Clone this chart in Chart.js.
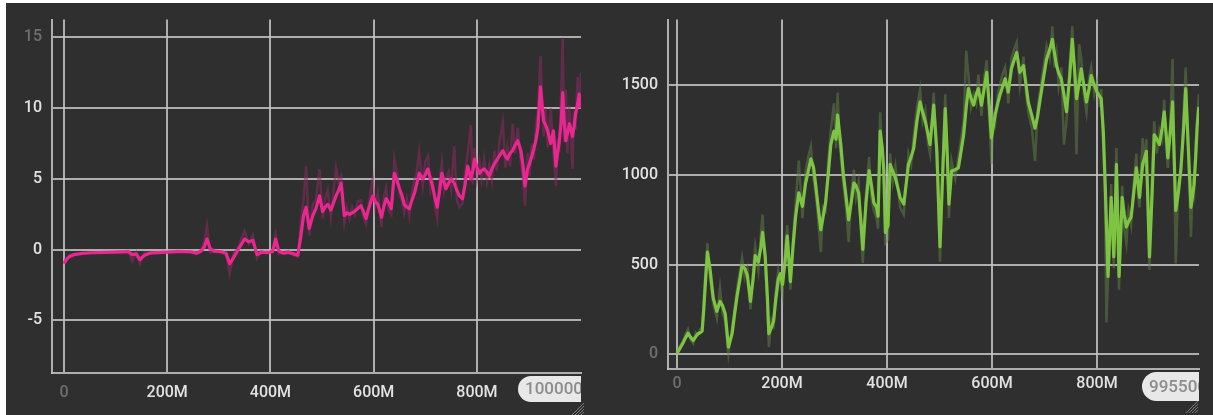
<!DOCTYPE html>
<html>
<head>
<meta charset="utf-8">
<script src="https://cdn.jsdelivr.net/npm/chart.js@4.4.1/dist/chart.umd.min.js"></script>
<style>
  html, body { margin: 0; padding: 0; width: 1213px; height: 415px; overflow: hidden; background: #2f2f2f; }
  .panel { position: absolute; top: 0; height: 415px; }
  #edgeL { position: absolute; left: 0; top: 0; width: 6px; height: 415px; background: #ffffff; z-index: 5; }
  #edgeT { position: absolute; left: 0; top: 0; width: 1213px; height: 3px; background: #ffffff; z-index: 5; }
</style>
</head>
<body>
<div class="panel" style="left:0;width:600px"><canvas id="rewardChart" width="600" height="415"></canvas></div>
<div class="panel" style="left:600px;width:613px"><canvas id="lengthChart" width="613" height="415"></canvas></div>
<div id="edgeL"></div>
<div id="edgeT"></div>
<script>
// ---- Left panel: reward curve (steps in millions) ----
const pinkSteps = [0,4,10,20,35,55,80,105,125,132,140,147,156,166,190,220,245,257,266,272,277,283,290,305,314,321,328,336,344,350,358,366,374,382,395,404,410,416,425,435,445,453,459,464,469,475,482,488,495,501,506,511,517,522,527,532,537,543,548,553,558,563,569,575,580,585,591,598,603,608,615,620,624,629,634,640,645,650,655,659,664,669,674,679,683,688,695,700,705,710,714,719,723,727,732,736,740,745,750,756,761,766,772,777,782,788,792,795,800,805,809,814,819,824,829,834,838,843,850,855,859,864,869,874,879,885,889,893,898,902,906,910,914,918,923,929,933,937,943,948,953,956,959,963,966,969,972,975,979,985,988,991,995,998,1001];
const pinkSmooth = [-0.97,-0.75,-0.5,-0.35,-0.27,-0.22,-0.2,-0.17,-0.15,-0.35,-0.3,-0.7,-0.4,-0.25,-0.2,-0.15,-0.15,-0.25,-0.1,0.2,0.75,0.1,-0.1,-0.15,-0.25,-1.0,-0.6,-0.1,0.4,0.75,0.55,0.65,-0.35,-0.2,-0.2,-0.15,0.75,-0.1,-0.25,-0.2,-0.3,-0.4,1.0,2.4,3.0,1.5,2.4,2.9,3.8,2.7,3.0,3.2,2.8,3.3,3.8,4.2,4.7,2.4,2.6,2.5,2.6,2.7,2.9,3.1,2.7,2.2,3.0,3.8,3.4,3.2,2.3,3.1,3.6,3.3,2.9,5.4,4.9,4.3,3.8,3.2,3.0,2.9,3.5,4.0,4.6,5.4,5.0,5.3,5.7,5.0,4.5,3.6,3.0,4.0,5.4,4.8,4.3,4.7,5.0,4.7,4.2,3.8,3.6,4.6,5.9,5.0,5.6,6.4,5.8,5.4,5.6,5.7,5.5,5.2,5.7,6.1,6.3,6.6,7.0,6.6,6.4,6.8,7.0,7.4,7.7,7.0,6.0,4.5,5.7,6.1,6.6,7.1,7.7,8.6,11.5,9.1,8.8,8.4,7.5,8.4,5.9,6.8,7.5,9.0,11.1,9.0,7.7,8.2,8.9,8.0,8.7,9.6,10.3,11.0,10.0];
const pinkRaw = [-1.0,-0.6,-0.4,-0.3,-0.25,-0.2,-0.2,-0.15,-0.1,-0.8,-0.2,-1.0,-0.2,-0.2,-0.2,-0.1,-0.2,-0.3,0.0,0.6,1.7,-0.2,-0.1,-0.2,-0.4,-1.7,-0.3,0.1,0.8,1.3,0.4,1.0,-0.6,-0.1,-0.3,0.0,1.1,-0.3,-0.2,-0.1,-0.4,-0.5,2.0,3.5,5.9,1.0,3.2,3.5,5.7,2.2,3.6,4.2,2.3,4.0,5.8,4.8,5.2,1.9,3.0,2.2,3.0,2.5,3.4,3.5,2.3,1.8,3.5,5.0,3.0,4.0,1.6,3.8,4.4,2.8,2.5,6.4,5.5,3.9,3.4,2.6,3.6,2.4,4.0,5.0,5.4,6.9,4.5,6.2,6.6,4.2,4.8,2.9,2.2,4.8,6.2,4.2,5.0,5.5,4.3,7.3,3.5,3.0,3.3,5.5,6.8,8.8,4.6,7.2,5.0,6.2,5.0,6.4,4.8,6.0,4.9,7.0,5.6,7.5,9.0,5.8,7.2,5.9,8.9,6.8,8.6,6.2,5.0,3.1,6.8,5.2,7.5,6.4,8.7,9.8,13.7,8.0,10.0,7.2,10.0,6.8,4.5,7.8,6.9,11.0,15.0,7.6,11.3,6.8,10.2,5.7,9.8,8.5,12.2,10.0,12.5];
const pinkXTicks = [0, 200, 400, 600, 800];
const pinkYTicks = [-5, 0, 5, 10, 15];

// ---- Right panel: episode length curve (steps in millions) ----
const greenSteps = [0,5,11,16,21,26,31,36,40,44,48,51,54,58,63,69,76,82,87,92,98,105,110,115,120,124,129,134,140,145,149,155,160,163,168,172,175,180,184,188,193,197,201,206,210,216,221,226,232,239,245,250,255,260,264,268,274,278,283,288,293,299,303,306,309,312,317,322,327,332,337,341,346,350,354,360,366,370,375,380,383,387,391,394,397,402,406,411,416,425,432,441,446,451,457,463,468,473,478,482,489,495,501,506,511,515,518,523,530,536,541,546,551,555,560,565,570,574,580,585,590,595,599,603,606,611,615,620,625,631,637,642,647,653,660,665,669,676,682,687,691,698,704,710,715,719,723,727,732,737,742,748,753,757,761,766,770,775,780,785,789,795,800,805,808,812,815,818,821,824,827,830,832,835,837,840,842,845,848,852,856,860,865,870,875,878,881,884,887,891,894,897,900,905,909,914,919,924,928,932,935,940,944,947,950,955,960,965,969,974,979,982,985,988,991,994];
const greenSmooth = [5,30,60,90,118,95,77,100,115,120,130,250,390,570,475,315,240,295,270,225,40,115,230,335,420,495,480,440,295,420,550,515,600,680,550,330,115,150,185,300,420,450,390,520,660,405,600,770,900,825,955,1020,1090,1045,950,845,695,760,845,1000,1170,1245,1200,1335,1250,1170,1000,880,750,850,955,940,900,750,585,845,1025,950,845,820,770,1245,1150,1025,680,720,1060,1020,985,875,838,1060,1100,1150,1300,1408,1350,1298,1230,1170,1390,1132,600,1000,1371,1100,838,1022,1030,1040,1130,1224,1380,1482,1430,1390,1450,1482,1390,1480,1573,1380,1206,1280,1335,1400,1445,1490,1537,1463,1592,1640,1684,1573,1610,1500,1408,1330,1261,1330,1408,1540,1647,1700,1757,1680,1610,1570,1537,1450,1353,1550,1757,1600,1426,1510,1592,1500,1408,1480,1555,1500,1463,1440,1426,1243,1000,728,434,650,875,700,544,800,1059,700,434,650,875,780,710,740,765,900,1040,960,875,970,1059,1100,1132,850,544,900,1224,1200,1170,1260,1353,1220,1096,1250,1408,1100,802,900,1040,1260,1482,1150,820,880,949,1100,1280,1380];
const greenRaw = [0,45,70,110,140,80,60,120,110,140,150,300,450,620,420,280,200,370,230,180,0,150,260,380,470,540,430,480,250,470,600,470,680,780,500,300,40,190,160,350,470,400,330,600,720,360,650,840,1080,760,1020,1100,1160,980,900,780,570,820,800,1080,1250,1400,1150,1460,1200,1100,950,820,625,900,1030,880,960,700,510,900,1100,880,800,760,700,1350,1100,1000,620,640,1120,960,1050,820,780,1120,1060,1220,1380,1480,1300,1360,1180,1120,1460,1080,517,1050,1450,1050,760,1080,980,1100,1200,1300,1693,1560,1380,1450,1400,1560,1330,1540,1640,1300,1060,1330,1290,1450,1500,1560,1600,1400,1650,1700,1740,1500,1660,1450,1350,1260,1077,1380,1460,1600,1720,1650,1830,1600,1680,1500,1600,1170,1300,1620,1830,1560,1114,1730,1650,1450,1350,1540,1600,1450,1520,1380,1480,1150,900,177,420,560,950,620,480,880,1150,600,360,720,940,700,620,800,720,960,1120,900,820,1050,1206,1050,1200,760,470,1000,1300,1120,1250,1200,1420,1150,1040,1320,1647,1050,507,960,1000,1350,1600,1080,654,950,900,1180,1316,1450];
const greenXTicks = [0, 200, 400, 600, 800];
const greenYTicks = [0, 500, 1000, 1500];

const BRIGHT = '#e2e2e2';
const DIM = '#6f6f6f';
const GRID = 'rgba(196,196,196,0.85)';
const FONT = { family: 'Roboto, "Noto Sans", sans-serif', size: 16, weight: '500' };

function pairs(xs, ys) { return xs.map((x, i) => ({ x: x, y: ys[i] })); }

// Hover step readout pill at the right end of the x axis, plus the resize grip
function readoutPlugin(text, pillLeft, pillTop, pillH, grip) {
  return {
    id: 'readout',
    afterDraw(chart) {
      const ctx = chart.ctx;
      const area = chart.chartArea;
      ctx.save();
      ctx.beginPath();
      ctx.rect(0, 0, area.right, chart.height);
      ctx.clip();
      const r = pillH / 2;
      ctx.beginPath();
      ctx.moveTo(pillLeft + r, pillTop);
      ctx.lineTo(pillLeft + 200, pillTop);
      ctx.lineTo(pillLeft + 200, pillTop + pillH);
      ctx.lineTo(pillLeft + r, pillTop + pillH);
      ctx.arc(pillLeft + r, pillTop + r, r, Math.PI / 2, Math.PI * 1.5);
      ctx.closePath();
      ctx.fillStyle = '#e8e8e8';
      ctx.fill();
      ctx.fillStyle = '#8c8c8c';
      ctx.font = '500 17px Roboto, "Noto Sans", sans-serif';
      ctx.textBaseline = 'middle';
      ctx.textAlign = 'left';
      ctx.fillText(text, pillLeft + 7, pillTop + pillH / 2 + 1);
      ctx.restore();
      // resize grip
      ctx.save();
      ctx.strokeStyle = '#7a7a7a';
      ctx.lineWidth = 1;
      for (let k = 0; k < 4; k++) {
        ctx.beginPath();
        ctx.moveTo(grip.x + 3 * k, grip.y + 12);
        ctx.lineTo(grip.x + 12, grip.y + 3 * k);
        ctx.stroke();
      }
      ctx.restore();
    }
  };
}

function buildChart(id, cfg) {
  return new Chart(document.getElementById(id), {
    type: 'line',
    data: {
      datasets: [
        {
          data: pairs(cfg.steps, cfg.smooth),
          borderColor: cfg.color,
          borderWidth: 3.2,
          borderJoinStyle: 'round',
          pointRadius: 0,
          tension: 0,
          order: 0
        },
        {
          data: pairs(cfg.steps, cfg.raw),
          borderColor: cfg.rawColor,
          borderWidth: 2.5,
          pointRadius: 0,
          tension: 0,
          order: 1
        }
      ]
    },
    options: {
      responsive: false,
      animation: false,
      events: [],
      layout: { padding: { left: 0, right: cfg.padRight, top: cfg.padTop, bottom: 0 } },
      plugins: { legend: { display: false }, tooltip: { enabled: false } },
      scales: {
        x: {
          type: 'linear',
          min: cfg.xMin,
          max: cfg.xMax,
          afterFit(s) { s.height = cfg.xAxisH; },
          afterBuildTicks(s) { s.ticks = cfg.xTicks.map(v => ({ value: v })); },
          grid: { color: GRID, lineWidth: 2, drawTicks: false },
          border: { display: true, color: GRID, width: 2 },
          ticks: {
            font: FONT,
            padding: cfg.xPad,
            maxRotation: 0,
            color: c => (c.tick && c.tick.value === 0) ? DIM : BRIGHT,
            callback: v => v === 0 ? '0' : v + 'M'
          }
        },
        y: {
          type: 'linear',
          min: cfg.yMin,
          max: cfg.yMax,
          afterFit(s) { s.width = cfg.yAxisW; },
          afterBuildTicks(s) { s.ticks = cfg.yTicks.map(v => ({ value: v })); },
          grid: { color: GRID, lineWidth: 2, drawTicks: false },
          border: { display: true, color: GRID, width: 2 },
          ticks: {
            font: FONT,
            padding: 10,
            color: c => (c.tick && cfg.dimY.includes(c.tick.value)) ? DIM : BRIGHT,
            callback: v => String(v)
          }
        }
      }
    },
    plugins: [readoutPlugin(cfg.readout, cfg.pill.x, cfg.pill.y, cfg.pill.h, cfg.grip)]
  });
}

buildChart('rewardChart', {
  steps: pinkSteps, smooth: pinkSmooth, raw: pinkRaw,
  color: '#ea2690', rawColor: 'rgba(150,40,100,0.5)',
  xMin: -23.2, xMax: 1001.5, yMin: -8.72, yMax: 16.26,
  xTicks: pinkXTicks, yTicks: pinkYTicks, dimY: [15],
  padRight: 19, padTop: 15, xAxisH: 42, yAxisW: 52, xPad: 10,
  readout: '1000000000', pill: { x: 518, y: 376, h: 26 }, grip: { x: 572, y: 403 }
});

buildChart('lengthChart', {
  steps: greenSteps, smooth: greenSmooth, raw: greenRaw,
  color: '#7ec443', rawColor: 'rgba(100,130,70,0.5)',
  xMin: -17.1, xMax: 994.3, yMin: -82, yMax: 1867,
  xTicks: greenXTicks, yTicks: greenYTicks, dimY: [0],
  padRight: 14, padTop: 13, xAxisH: 46, yAxisW: 68, xPad: 5,
  readout: '995500000', pill: { x: 542, y: 372, h: 29 }, grip: { x: 586, y: 401 }
});
</script>
</body>
</html>
